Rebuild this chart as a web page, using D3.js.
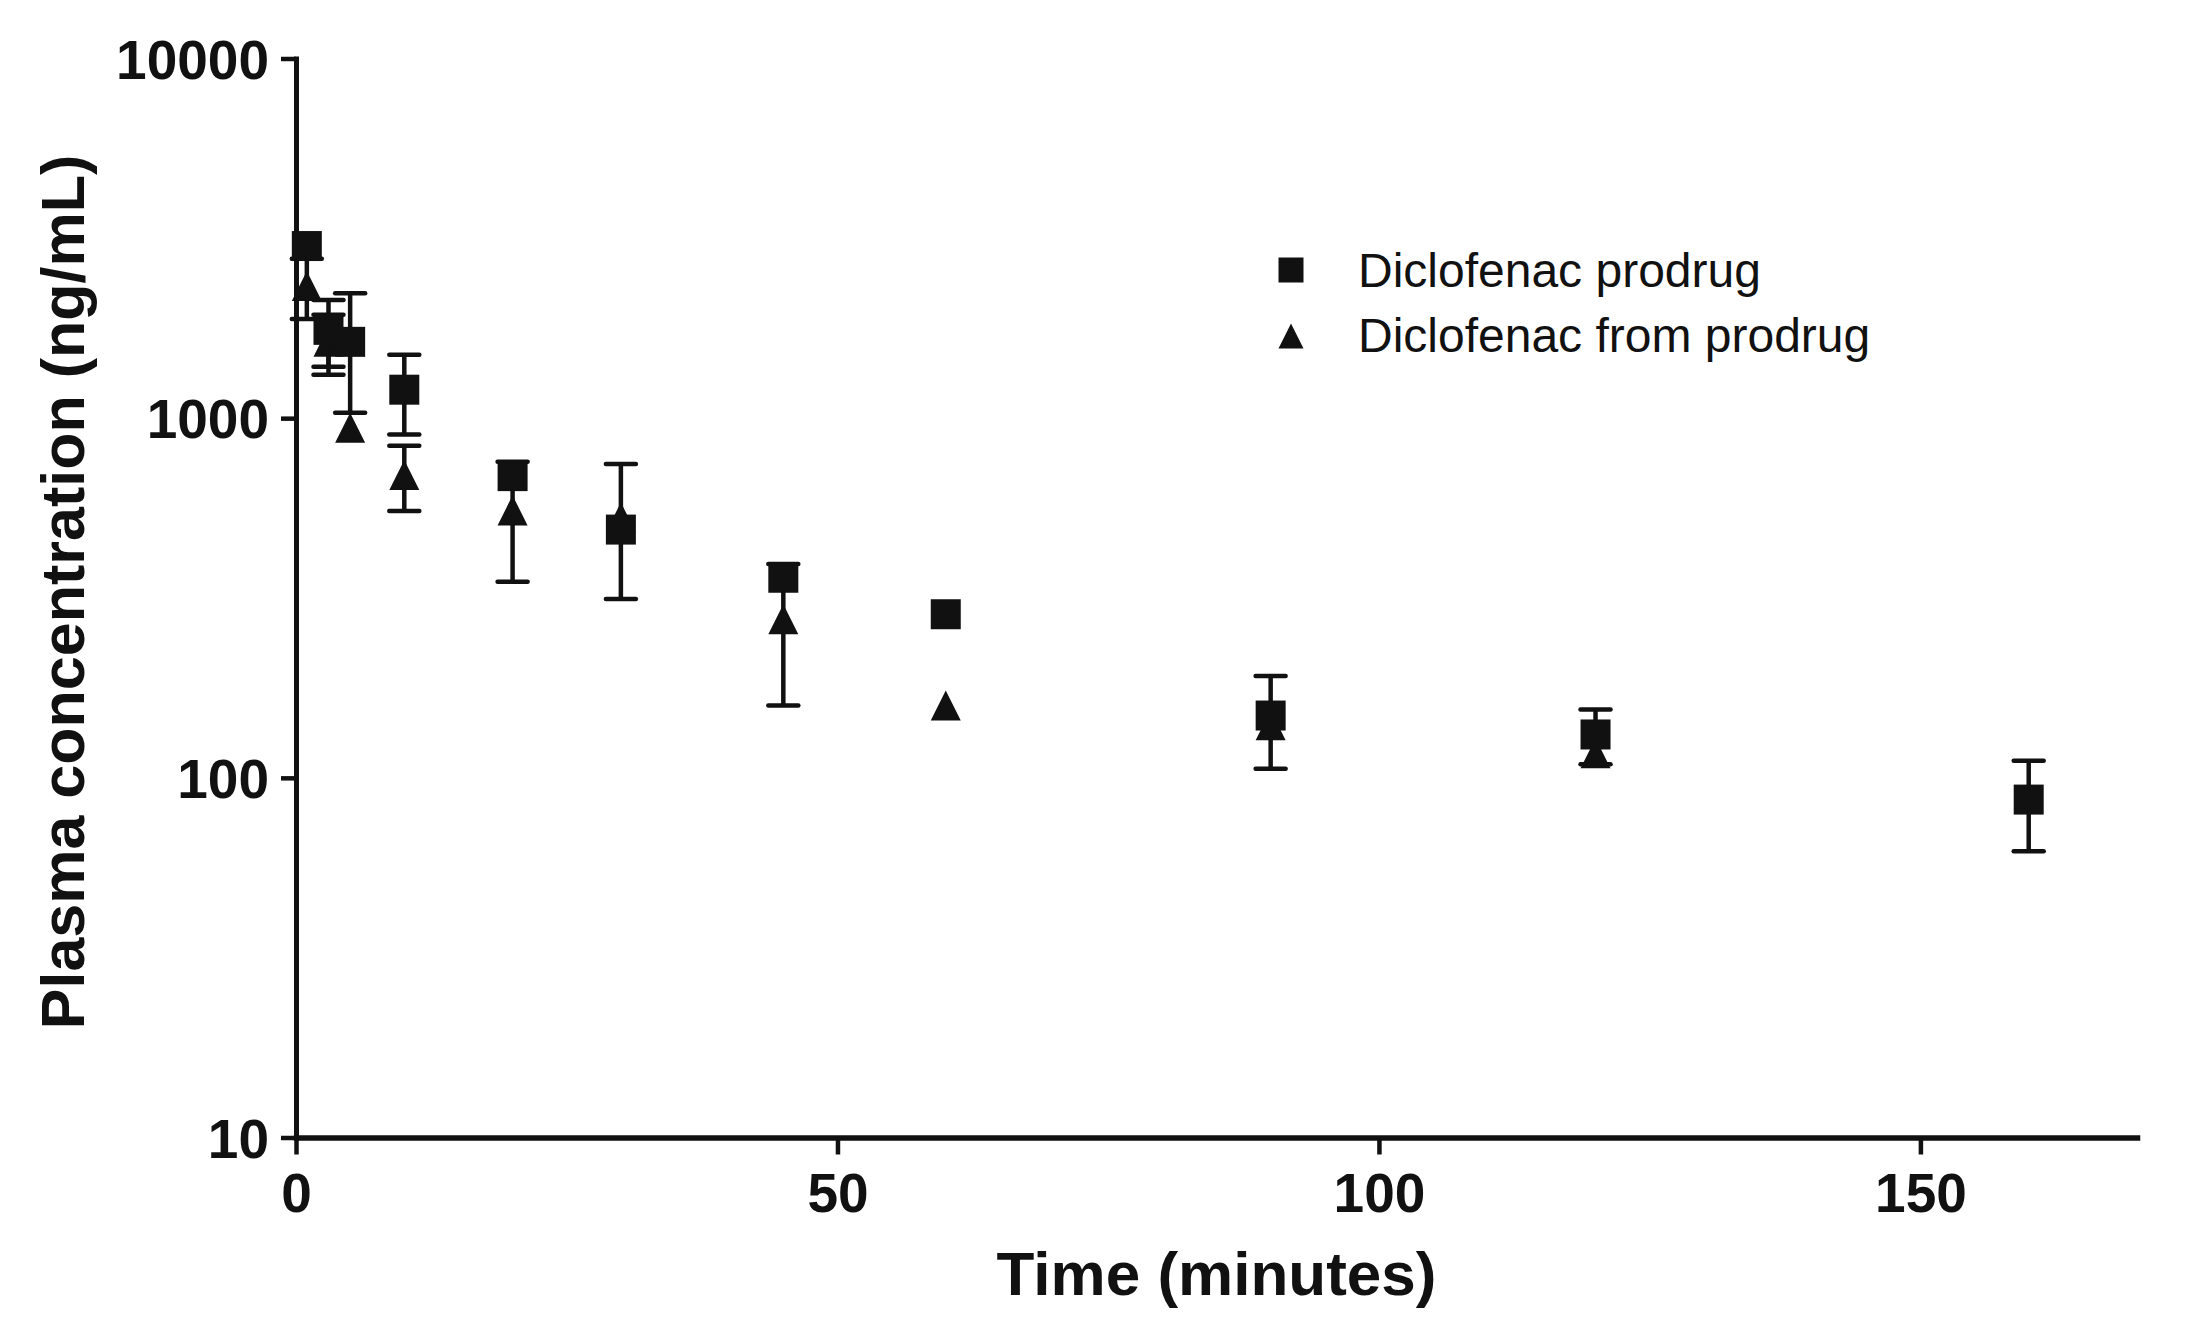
<!DOCTYPE html>
<html>
<head>
<meta charset="utf-8">
<script src="https://cdn.jsdelivr.net/npm/d3@7"></script>
<style>
  html, body { margin: 0; padding: 0; background: #fff; }
  svg { display: block; }
  text { font-family: "Liberation Sans", Arial, Helvetica, sans-serif; fill: #111; }
</style>
</head>
<body>
<svg id="chart" width="2199" height="1337"></svg>
<script>
// ---- data ----
const times = [1, 3, 5, 10, 20, 30, 45, 60, 90, 120, 160];
const prodrugMean = [3010, 1760, 1630, 1200, 690, 490, 360, 285, 149, 132, 87];
const prodrugErr  = [0, 370, 595, 300, 0, 0, 0, 0, 43, 23, 24.5];
const fromMean = [2330, 1630, 940, 695, 554, 530, 276, 159, 140, 117, null];
const fromErr  = [443, 310, 0, 143, 203, 216, 117, 0, 0, 0, null];
const seriesNames = ["Diclofenac prodrug", "Diclofenac from prodrug"];
const yTicks = [10, 100, 1000, 10000];
const xTicks = [0, 50, 100, 150];
const xTitle = "Time (minutes)";
const yTitle = "Plasma concentration (ng/mL)";

(function () {
// ---- layout ----
const plotL = 296, plotR = 2137, plotT = 58.5, plotB = 1137.5;
const ink = "#111";

const svg = d3.select("#chart");
const x = d3.scaleLinear().domain([0, 170]).range([plotL, plotR]);
const y = d3.scaleLog().domain([10, 10000]).range([plotB, plotT]);

// ---- axes ----
const yAxis = svg.append("g").attr("transform", `translate(${plotL},0)`)
  .call(d3.axisLeft(y).tickValues(yTicks).tickSize(15).tickSizeOuter(0)
        .tickFormat(d3.format("d")));
yAxis.select(".domain").attr("stroke", ink).attr("stroke-width", 5);
yAxis.selectAll(".tick line").attr("stroke", ink).attr("stroke-width", 4.5);
yAxis.selectAll(".tick text").attr("x", -27).attr("dy", "0.36em")
  .attr("fill", ink).style("font-size", "55px").style("font-weight", "bold")
  .style("font-family", '"Liberation Sans", Arial, sans-serif');

const xAxis = svg.append("g").attr("transform", `translate(0,${plotB})`)
  .call(d3.axisBottom(x).tickValues(xTicks).tickSize(17).tickSizeOuter(0));
xAxis.select(".domain").attr("stroke", ink).attr("stroke-width", 5.5);
xAxis.selectAll(".tick line").attr("stroke", ink).attr("stroke-width", 4.5);
xAxis.selectAll(".tick text").attr("y", 74.5).attr("dy", 0)
  .attr("fill", ink).style("font-size", "55px").style("font-weight", "bold")
  .style("font-family", '"Liberation Sans", Arial, sans-serif');
svg.selectAll(".domain").attr("stroke-linecap", "square");

// axis titles
svg.append("text").attr("x", (plotL + plotR) / 2).attr("y", 1295)
  .attr("text-anchor", "middle").style("font-size", "62px").style("font-weight", "bold")
  .text(xTitle);
svg.append("text").attr("transform", `translate(84,${(plotT + plotB) / 2 - 6}) rotate(-90)`)
  .attr("text-anchor", "middle").style("font-size", "61px").style("font-weight", "bold")
  .text(yTitle);

// ---- marker shapes ----
function squarePath(s) {
  const p = d3.path(); const h = s / 2;
  p.rect(-h, -h, s, s); return p.toString();
}
function trianglePath(w, h) {
  const p = d3.path();
  p.moveTo(0, -h / 2); p.lineTo(w / 2, h / 2); p.lineTo(-w / 2, h / 2); p.closePath();
  return p.toString();
}

function drawSeries(means, errs, shape) {
  const data = times.map((t, i) => ({ t, m: means[i], e: errs[i] })).filter(d => d.m != null);
  const g = svg.append("g");
  const eb = g.selectAll("g.eb").data(data.filter(d => d.e > 0)).enter().append("g")
    .attr("stroke", ink).attr("fill", "none");
  eb.append("line")
    .attr("x1", d => x(d.t)).attr("x2", d => x(d.t))
    .attr("y1", d => y(d.m + d.e)).attr("y2", d => y(Math.max(d.m - d.e, 10)))
    .attr("stroke-width", 4.5);
  eb.append("line")
    .attr("x1", d => x(d.t) - 15).attr("x2", d => x(d.t) + 15)
    .attr("y1", d => y(d.m + d.e)).attr("y2", d => y(d.m + d.e))
    .attr("stroke-width", 4.5).attr("stroke-linecap", "round");
  eb.append("line")
    .attr("x1", d => x(d.t) - 15).attr("x2", d => x(d.t) + 15)
    .attr("y1", d => y(d.m - d.e)).attr("y2", d => y(d.m - d.e))
    .attr("stroke-width", 4.5).attr("stroke-linecap", "round");
  g.selectAll("path.mk").data(data).enter().append("path")
    .attr("d", shape)
    .attr("transform", d => `translate(${x(d.t)},${y(d.m)})`)
    .attr("fill", ink);
}

// triangles underneath, squares on top
drawSeries(fromMean, fromErr, trianglePath(30, 30));
drawSeries(prodrugMean, prodrugErr, squarePath(30));

// ---- legend ----
const legend = svg.append("g").attr("transform", "translate(1291,270)");
legend.append("path").attr("d", squarePath(25)).attr("fill", ink);
legend.append("path").attr("d", trianglePath(25, 25)).attr("transform", "translate(0,66)").attr("fill", ink);
legend.selectAll("text").data(seriesNames).enter().append("text")
  .attr("x", 67).attr("y", (d, i) => 17 + i * 65)
  .style("font-size", "48px")
  .text(d => d);
})();
</script>
</body>
</html>
